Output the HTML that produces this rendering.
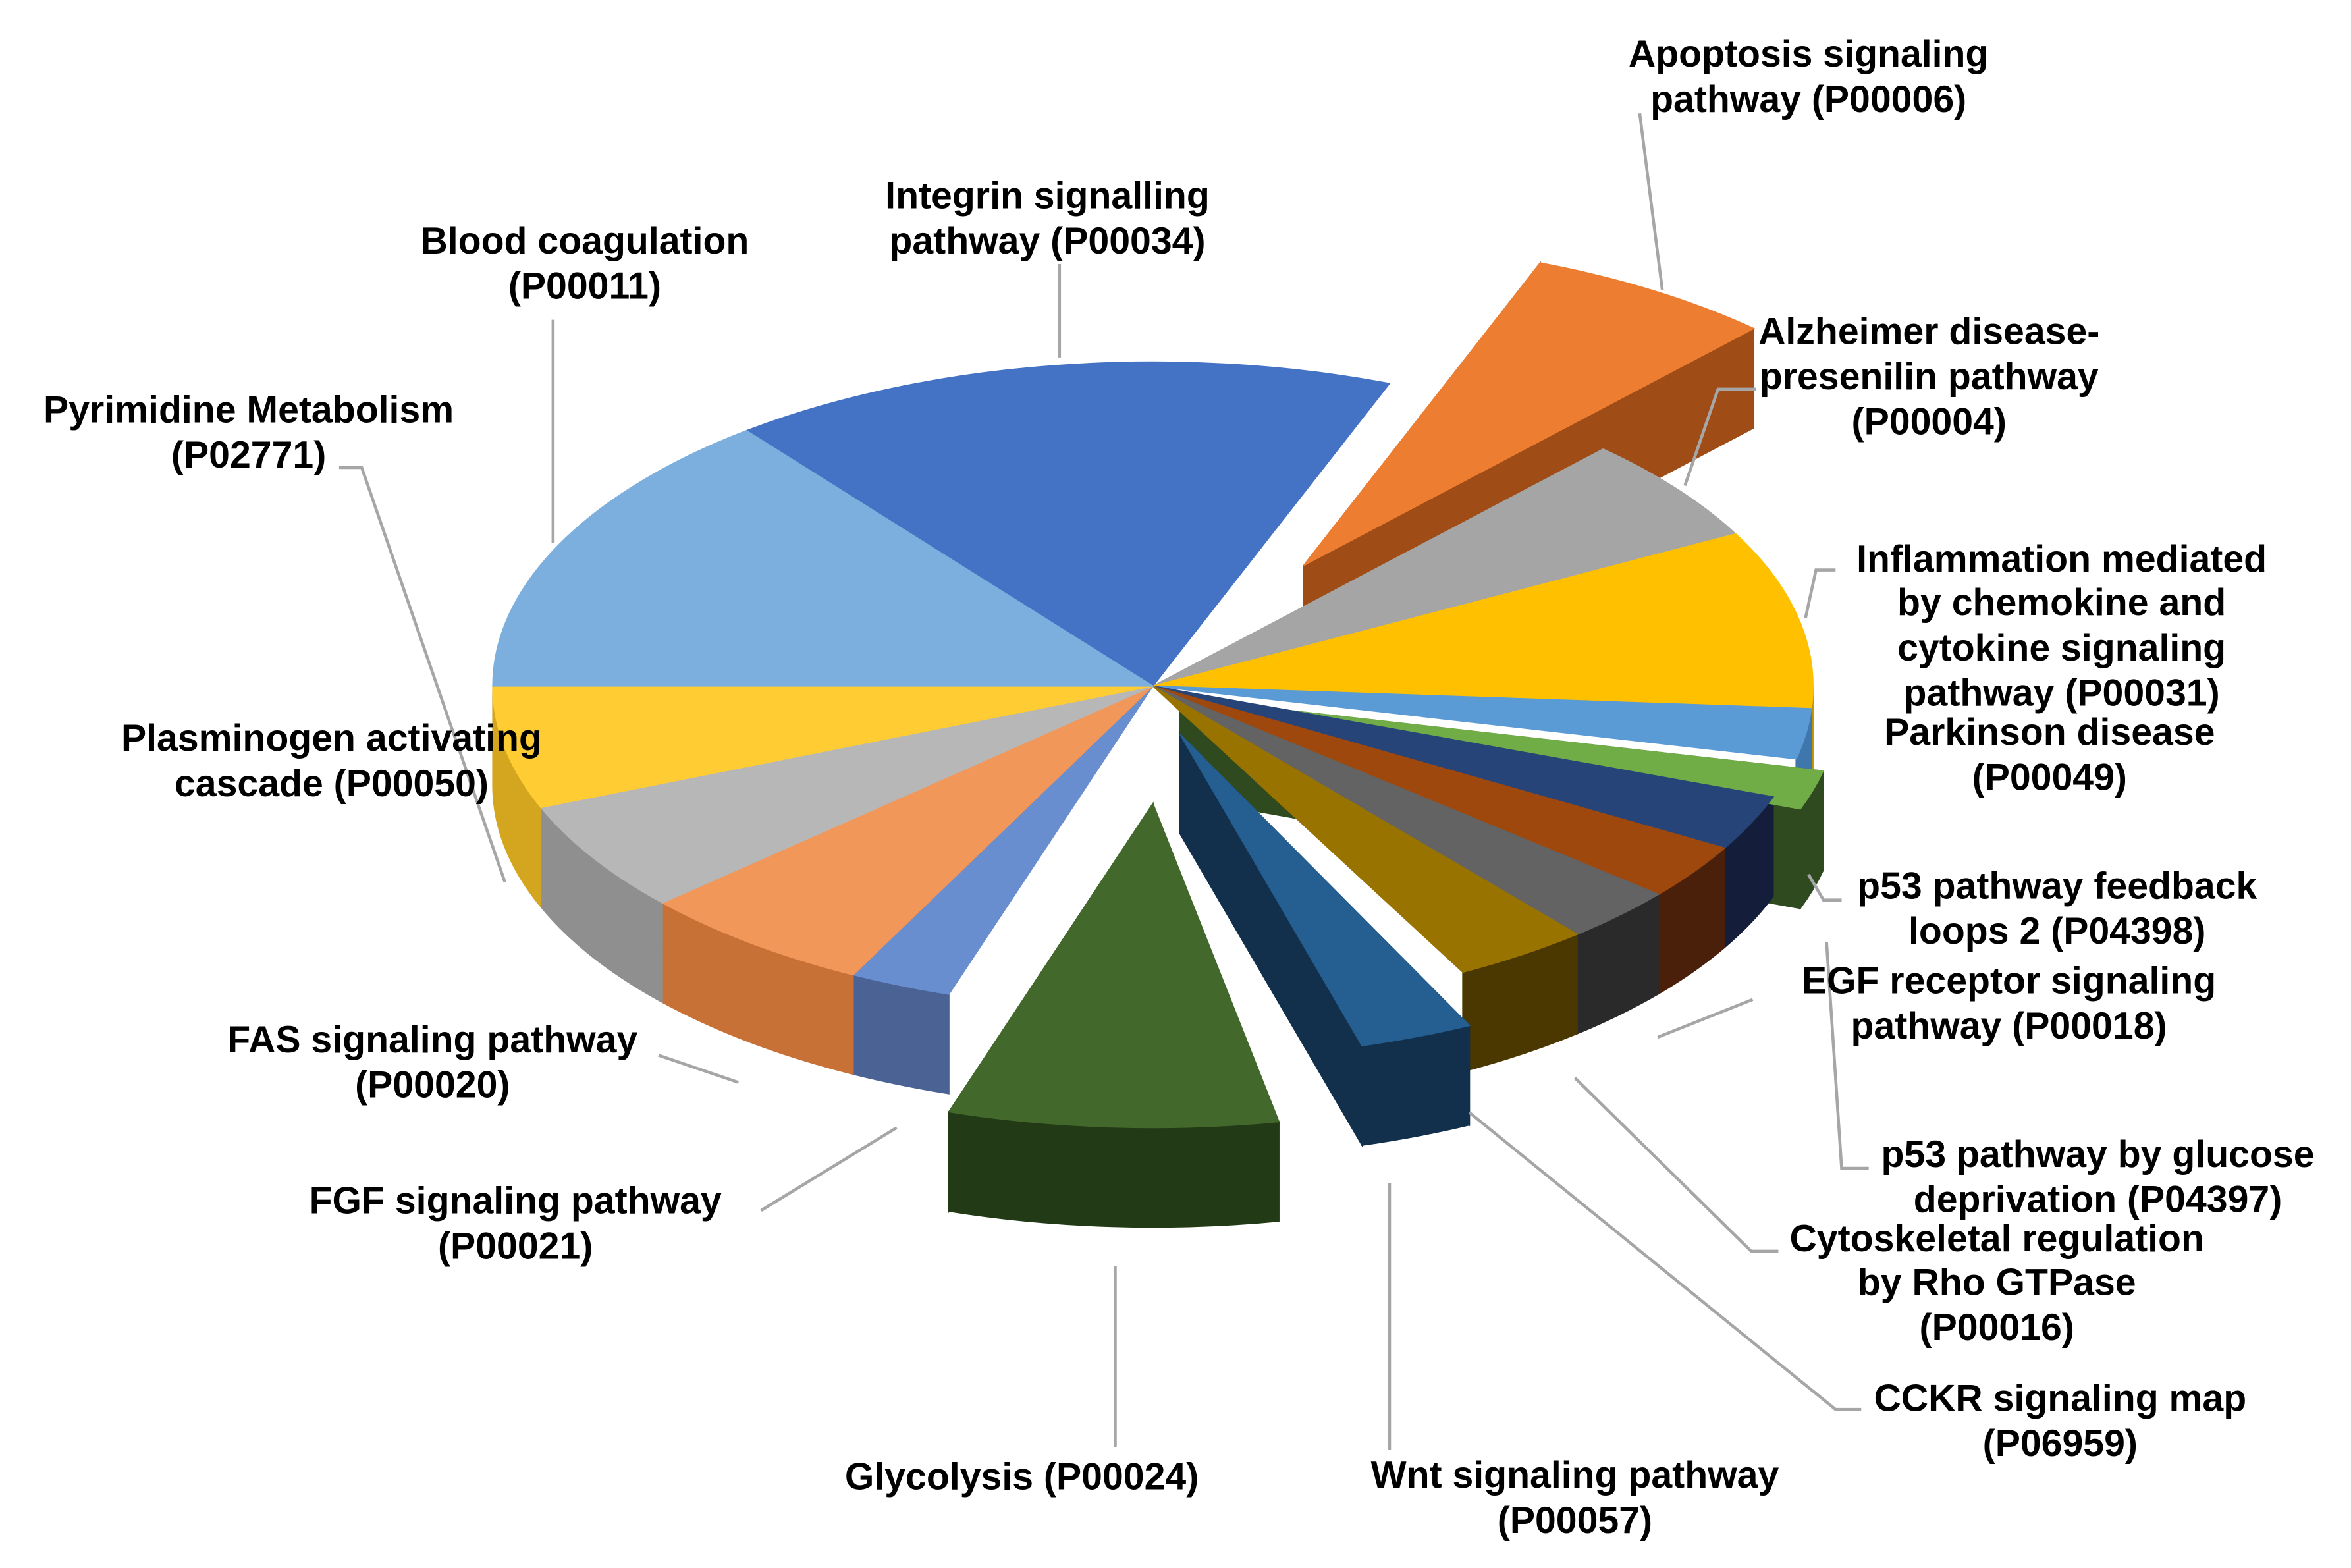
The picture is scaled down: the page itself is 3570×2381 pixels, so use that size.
<!DOCTYPE html>
<html><head><meta charset="utf-8"><style>
html,body{margin:0;padding:0;background:#fff;}
svg{display:block;}
text{font-family:"Liberation Sans",Arial,sans-serif;font-weight:bold;font-size:25px;fill:#000;text-anchor:middle;}
</style></head><body>
<svg id="s" width="3570" height="2381" viewBox="0 0 1560 1040" xmlns="http://www.w3.org/2000/svg">
<g id="pie"></g>
<g stroke="#a6a6a6" stroke-width="2" fill="none">
<polyline points="1088,75 1103,192"/>
<polyline points="703,175 703,237"/>
<polyline points="367,212 367,360"/>
<polyline points="1165,258 1140,258 1118,322"/>
<polyline points="225,310 240,310 335,585"/>
<polyline points="1218,378 1205,378 1198,410"/>
<polyline points="1222,597 1210,597 1200,580"/>
<polyline points="1163,663 1100,688"/>
<polyline points="437,700 490,718"/>
<polyline points="1240,775 1222,775 1212,625"/>
<polyline points="505,803 595,748"/>
<polyline points="1180,830 1162,830 1045,715"/>
<polyline points="1235,935 1218,935 975,738"/>
<polyline points="740,960 740,840"/>
<polyline points="922,962 922,785"/>
</g>
<g>
<text x="1200" y="44">Apoptosis signaling</text><text x="1200" y="74">pathway (P00006)</text>
<text x="695" y="138">Integrin signalling</text><text x="695" y="168">pathway (P00034)</text>
<text x="388" y="168">Blood coagulation</text><text x="388" y="198">(P00011)</text>
<text x="1280" y="228">Alzheimer disease-</text><text x="1280" y="258">presenilin pathway</text><text x="1280" y="288">(P00004)</text>
<text x="165" y="280">Pyrimidine Metabolism</text><text x="165" y="310">(P02771)</text>
<text x="1368" y="379">Inflammation mediated</text><text x="1368" y="408">by chemokine and</text><text x="1368" y="438">cytokine signaling</text><text x="1368" y="468">pathway (P00031)</text>
<text x="1360" y="494">Parkinson disease</text><text x="1360" y="524">(P00049)</text>
<text x="220" y="498">Plasminogen activating</text><text x="220" y="528">cascade (P00050)</text>
<text x="1365" y="596">p53 pathway feedback</text><text x="1365" y="626">loops 2 (P04398)</text>
<text x="1333" y="659">EGF receptor signaling</text><text x="1333" y="689">pathway (P00018)</text>
<text x="287" y="698">FAS signaling pathway</text><text x="287" y="728">(P00020)</text>
<text x="1392" y="774">p53 pathway by glucose</text><text x="1392" y="804">deprivation (P04397)</text>
<text x="342" y="805">FGF signaling pathway</text><text x="342" y="835">(P00021)</text>
<text x="1325" y="830">Cytoskeletal regulation</text><text x="1325" y="859">by Rho GTPase</text><text x="1325" y="889">(P00016)</text>
<text x="1367" y="936">CCKR signaling map</text><text x="1367" y="966">(P06959)</text>
<text x="678" y="988">Glycolysis (P00024)</text>
<text x="1045" y="987">Wnt signaling pathway</text><text x="1045" y="1017">(P00057)</text>
</g>
</svg>
<script>
var cx=765,cy=455,rx=438,ry=215,D=66;
var S=[
[-128,-69,'#4472c4','#2e4d88',0,0],
[-69,-47,'#ed7d31','#a04c16',100,-80],
[-47,-28,'#a5a5a5','#7a7a7a',0,0],
[-28,4,'#ffc000','#c09000',0,0],
[4,13,'#5b9bd5','#3f77ad',0,0],
[13,20,'#70ad47','#2e4a1e',18,8],
[20,30,'#264478','#141e3a',0,0],
[30,40,'#9e480e','#4a200a',0,0],
[40,50,'#636363','#2a2a2a',0,0],
[50,62,'#997300','#4a3800',0,0],
[64,74,'#255e91','#12304c',18,32],
[79,108,'#43682b','#233a17',0,78],
[108,117,'#698ed0','#4a6394',0,0],
[117,138,'#f1975a','#c87137',0,0],
[138,158,'#b7b7b7','#8f8f8f',0,0],
[158,180,'#ffcd33','#d4a51f',0,0],
[180,232,'#7cafdd','#6c9fd0',0,0]];
function P(t,dx,dy){t=t*Math.PI/180;return [cx+dx+rx*Math.cos(t),cy+dy+ry*Math.sin(t)];}
var g=document.getElementById('pie'),h='';
function path(d,f){h+='<path d="'+d+'" fill="'+f+'" stroke="'+f+'" stroke-width="0.8"/>';}
S.forEach(function(s){
 var a=s[0],b=s[1],dx=s[4],dy=s[5];
 if(dx||dy){
  [a,b].forEach(function(t){var p=P(t,dx,dy),c=[cx+dx,cy+dy];
   path('M'+c+' L'+p+' L'+p[0]+','+(p[1]+D)+' L'+c[0]+','+(c[1]+D)+'Z',s[3]);});
 }
 var a2=Math.max(a,0),b2=Math.min(b,180);
 if(b2>a2){var p1=P(a2,dx,dy),p2=P(b2,dx,dy);
  path('M'+p1+' A'+rx+','+ry+' 0 0 1 '+p2+' L'+p2[0]+','+(p2[1]+D)+' A'+rx+','+ry+' 0 0 0 '+p1[0]+','+(p1[1]+D)+'Z',s[3]);}
});
S.forEach(function(s){
 var a=s[0],b=s[1],dx=s[4],dy=s[5],p1=P(a,dx,dy),p2=P(b,dx,dy),c=[cx+dx,cy+dy];
 path('M'+c+' L'+p1+' A'+rx+','+ry+' 0 '+((b-a)>180?1:0)+' 1 '+p2+'Z',s[2]);
});
g.innerHTML=h;
</script>
</body></html>
